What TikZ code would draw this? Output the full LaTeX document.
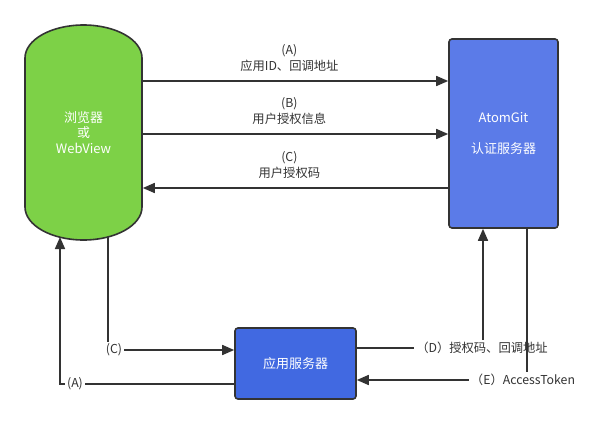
\documentclass[tikz,border=0pt]{standalone}
\usepackage{fontspec}
\setmainfont{Noto Sans CJK SC}
\usepackage{xcolor}
\usetikzlibrary{arrows.meta}
\definecolor{webgreen}{HTML}{7DD147}
\definecolor{authblue}{HTML}{5B7BE8}
\definecolor{appblue}{HTML}{4169E1}
\definecolor{linegray}{HTML}{333333}

\begin{document}
\begin{tikzpicture}[x=1pt,y=-1pt,
  arr/.style={line width=1.6pt,draw=linegray,-{Triangle[length=12pt,width=10pt]}},
  box/.style={draw=linegray,line width=1.6pt,rounded corners=3pt,text=white,align=center,font=\fontsize{13}{15.5}\selectfont},
  lbl/.style={text=linegray,align=center,font=\fontsize{12.3}{16}\selectfont},
  tag/.style={lbl,fill=white,inner sep=2pt}]
\useasboundingbox (0,0) rectangle (590,424);

% browser / webview
\filldraw[fill=webgreen,draw=linegray,line width=1.6pt] (25,58) arc[start angle=180,end angle=0,x radius=58.5pt,y radius=33pt] -- (142,207) arc[start angle=0,end angle=-180,x radius=58.5pt,y radius=33pt] -- cycle;
\node[box,draw=none,minimum width=117pt,minimum height=215pt] (web) at (83.5,132.5) {浏览器\\或\\WebView};

% servers
\node[box,fill=authblue,minimum width=109pt,minimum height=189pt] (auth) at (503.5,133.5) {AtomGit\\[15.5pt]认证服务器};
\node[box,fill=appblue,minimum width=121pt,minimum height=71pt] (app) at (295.5,363.5) {应用服务器};

\coordinate (ya) at (0,81);
\coordinate (yb) at (0,134);
\coordinate (yc) at (0,188);
\coordinate (wa) at (60,237);
\coordinate (wc) at (108,237);
\coordinate (xd) at (483,0);
\coordinate (xe) at (527,0);

\draw[arr] (web.east |- ya) -- node[lbl,above=5pt,pos=0.48] {(A)\\应用ID、回调地址} (auth.west |- ya);
\draw[arr] (web.east |- yb) -- node[lbl,above=5pt,pos=0.48] {(B)\\用户授权信息} (auth.west |- yb);
\draw[arr] (auth.west |- yc) -- node[lbl,above=5pt,pos=0.52] {(C)\\用户授权码} (web.east |- yc);

\draw[arr] (app.west |- 0,384) -| (wa);
\node[tag] (tA) at (75,384) {(A)};
\draw[arr] (wc) |- (app.west |- 0,350);
\node[tag] (tC) at (114,350) {(C)};
\draw[arr] (app.east |- 0,348) -| (xd |- auth.south);
\node[tag] (tD) at (482,348) {（D）授权码、回调地址};
\draw[arr] (xe |- auth.south) |- (app.east |- 0,380);
\node[tag] (tE) at (523,380) {（E）AccessToken};
\end{tikzpicture}
\end{document}
